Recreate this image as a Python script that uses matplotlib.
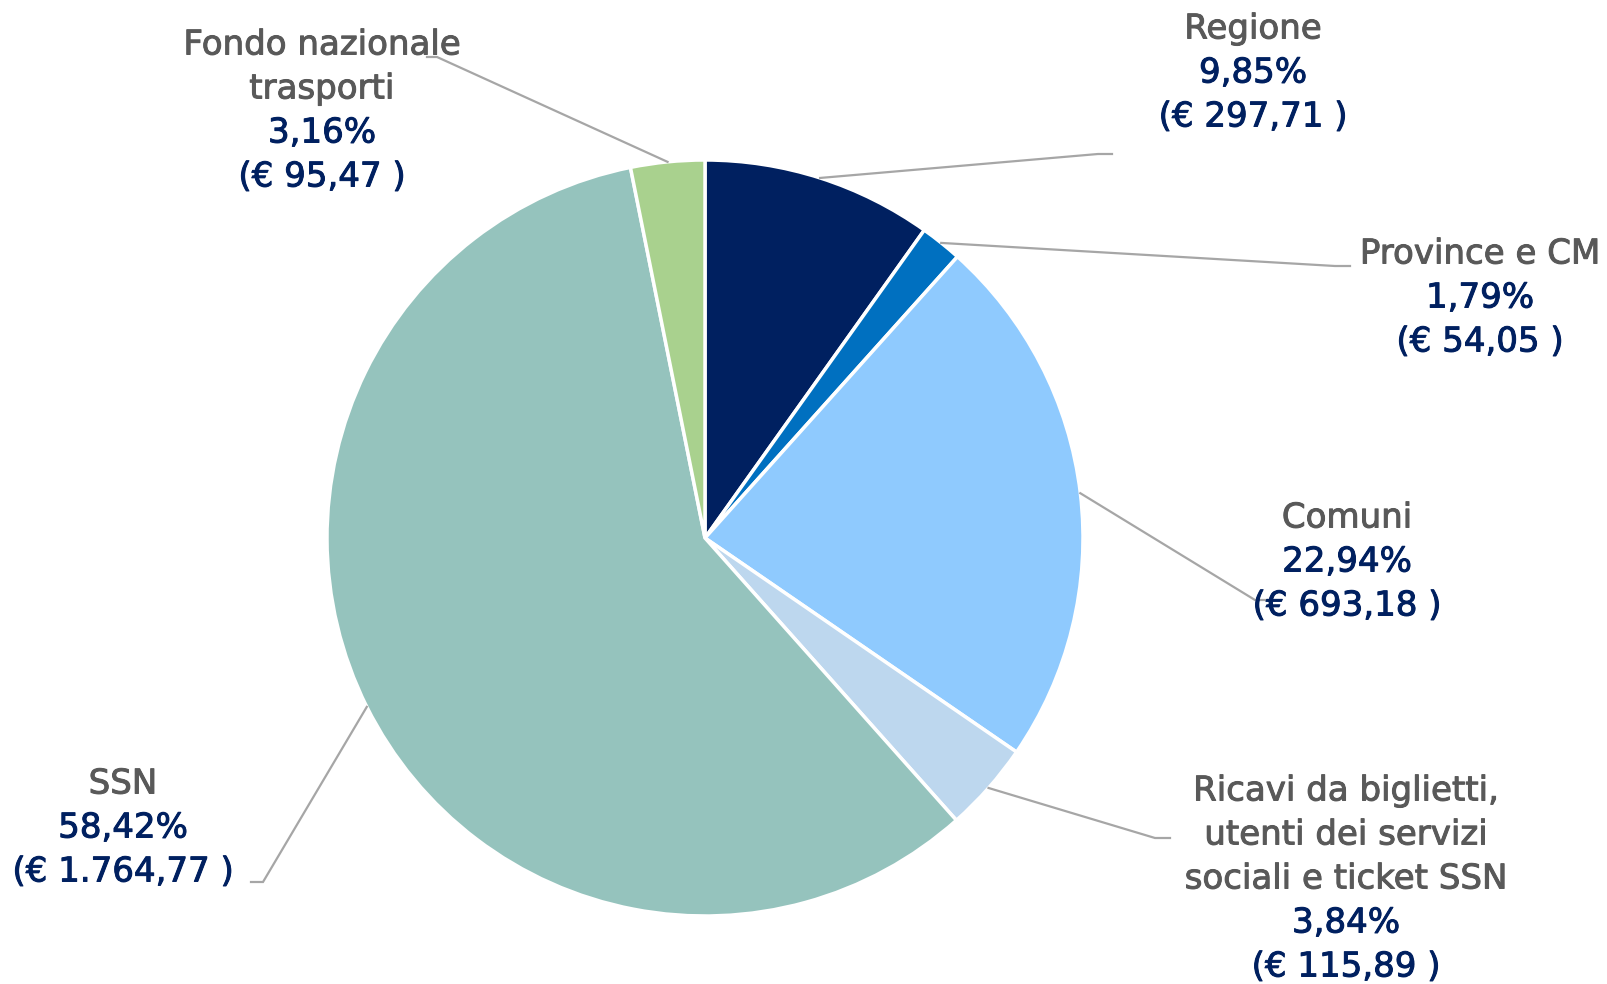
import numpy as np
import matplotlib
matplotlib.use("Agg")
import matplotlib.pyplot as plt
import matplotlib.patheffects as pe

# ---- data ----
categories = ["Regione", "Province e CM", "Comuni",
              "Ricavi da biglietti,\nutenti dei servizi\nsociali e ticket SSN",
              "SSN", "Fondo nazionale\ntrasporti"]
percents = [9.85, 1.79, 22.94, 3.84, 58.42, 3.16]
euros = [297.71, 54.05, 693.18, 115.89, 1764.77, 95.47]
colors = ["#002060", "#0070C0", "#8FCAFE", "#BDD7EE", "#95C3BD", "#A9D18E"]

W, H = 1607, 984
fig = plt.figure(figsize=(W / 100, H / 100), dpi=100)
ax = fig.add_axes([0, 0, 1, 1])

cx, cy, R = 705, 538, 378  # pixel coords, y down
wedges, _ = ax.pie(percents, colors=colors, startangle=90, counterclock=False,
                   center=(cx, H - cy), radius=R,
                   wedgeprops=dict(edgecolor="white", linewidth=2.5))
ax.set_xlim(0, W)
ax.set_ylim(0, H)
ax.set_aspect("equal")
ax.axis("off")

def it_num(v):
    s = f"{v:,.2f}"
    return s.replace(",", "X").replace(".", ",").replace("X", ".")

# layout: text center x, y of first line, elbow, leader end (pixels, y down)
layout = [
    dict(x=1253, y0=29, elbow=(1098, 154), end=(1112, 154)),
    dict(x=1480, y0=254, elbow=(1335, 266), end=(1350, 266)),
    dict(x=1347, y0=518, elbow=(1255, 600), end=(1270, 600)),
    dict(x=1346, y0=791, elbow=(1155, 838), end=(1170, 838)),
    dict(x=123, y0=784, elbow=(263, 882), end=(251, 882)),
    dict(x=322, y0=45, elbow=(437, 57), end=(427, 57)),
]
step = 44.0
gray, navy, linec = "#595959", "#002060", "#A6A6A6"
fs = 24.5

def txt(x, y, s, c):
    t = ax.text(x, H - y, s, ha="center", va="center", fontsize=fs,
                color=c, family="DejaVu Sans")
    t.set_path_effects([pe.withStroke(linewidth=0.7, foreground=c)])

for w, cat, p, e, L in zip(wedges, categories, percents, euros, layout):
    ang = np.deg2rad((w.theta1 + w.theta2) / 2)
    sx, sy = cx + R * np.cos(ang), (H - cy) + R * np.sin(ang)
    ex, ey = L["elbow"]
    fx, fy = L["end"]
    ax.plot([sx, ex, fx], [sy, H - ey, H - fy], color=linec, lw=1.6,
            solid_joinstyle="miter", zorder=1)
    y = L["y0"]
    for ln in cat.split("\n"):
        txt(L["x"], y, ln, gray)
        y += step
    txt(L["x"], y, f"{p:.2f}".replace(".", ",") + "%", navy)
    y += step
    txt(L["x"], y, f"(€ {it_num(e)} )", navy)

fig.savefig("out.png", dpi=100, facecolor="white")
